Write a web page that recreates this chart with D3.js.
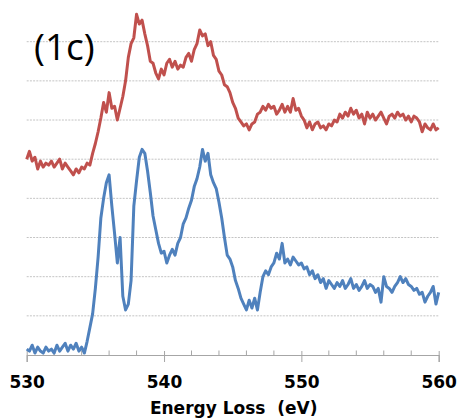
<!DOCTYPE html>
<html>
<head>
<meta charset="utf-8">
<script src="https://cdn.jsdelivr.net/npm/d3@7"></script>
<style>
  html, body { margin: 0; padding: 0; background: #fff; }
  svg { display: block; }
</style>
</head>
<body>
<svg id="chart" width="459" height="419"></svg>
<script>
// ---- data ----
const panelLabel = "(1c)";
const axisTitle = "Energy Loss  (eV)";
const xTickLabels = [530, 540, 550, 560];
const xMinorTicks = [532, 534, 536, 538, 542, 544, 546, 548, 552, 554, 556, 558];
const gridLevels = [1, 2, 3, 4, 5, 6, 7, 8];
const energyStart = 530, energyStep = 0.2;

// red spectrum (upper), sampled every 0.2 eV from 530 to 560
const redSeries = [
  5.0, 5.2, 4.95, 5.05, 4.75, 4.95, 4.8, 4.9, 4.85, 4.95,
  4.8, 4.9, 5.0, 4.75, 4.9, 4.8, 4.7, 4.6, 4.75, 4.65,
  4.8, 4.75, 4.9, 4.85, 5.15, 5.4, 5.7, 6.05, 6.45, 6.2,
  6.7, 6.3, 6.35, 6.0, 6.3, 6.6, 7.0, 7.6, 7.95, 8.1,
  8.7, 8.45, 8.55, 8.2, 7.9, 7.5, 7.45, 7.2, 7.05, 7.3,
  7.15, 7.45, 7.55, 7.35, 7.5, 7.3, 7.4, 7.35, 7.6, 7.7,
  7.5, 7.8, 7.95, 8.3, 8.15, 8.2, 7.9, 8.0, 7.65, 7.55,
  7.25, 7.15, 6.9, 6.85, 6.7, 6.45, 6.3, 6.05, 5.95, 5.85,
  5.9, 5.75, 5.9, 5.95, 6.15, 6.2, 6.35, 6.25, 6.4, 6.3,
  6.35, 6.15, 6.25, 6.4, 6.2, 6.35, 6.2, 6.55, 6.25, 6.3,
  6.1, 6.0, 5.8, 5.95, 5.75, 5.9, 5.95, 5.8, 5.85, 5.75,
  5.9, 5.85, 6.0, 5.95, 6.15, 6.05, 6.2, 6.1, 6.3, 6.15,
  6.25, 6.05, 6.15, 5.9, 6.2, 6.05, 6.15, 6.0, 6.1, 6.2,
  6.05, 5.9, 6.1, 6.15, 6.05, 6.2, 6.1, 6.15, 6.0, 6.1,
  5.95, 6.1, 6.05, 5.95, 5.7, 5.9, 5.8, 5.75, 5.9, 5.75,
  5.8
];

// blue spectrum (lower), sampled every 0.2 eV from 530 to 560
const blueSeries = [
  0.15, 0.1, 0.25, 0.05, 0.2, 0.1, 0.05, 0.2, 0.1, 0.15,
  0.05, 0.25, 0.1, 0.2, 0.3, 0.1, 0.25, 0.15, 0.3, 0.1,
  0.2, 0.05, 0.35, 0.7, 1.05, 1.7, 2.5, 3.5, 4.0, 4.4,
  4.6, 3.8, 3.1, 2.35, 3.0, 1.5, 1.15, 1.3, 1.9, 3.8,
  4.45, 5.05, 5.25, 5.15, 4.7, 4.15, 3.55, 3.2, 2.85, 2.6,
  2.65, 2.35, 2.55, 2.7, 2.55, 2.85, 3.0, 3.35, 3.5, 3.75,
  3.95, 4.3, 4.5, 4.8, 5.25, 4.95, 5.15, 4.6, 4.4, 4.25,
  3.9, 3.5, 3.0, 2.55, 2.45, 2.25, 1.9, 1.7, 1.45, 1.3,
  1.15, 1.4, 1.2, 1.45, 1.15, 1.6, 2.0, 2.15, 2.05, 2.25,
  2.35, 2.6, 2.45, 2.85, 2.35, 2.45, 2.3, 2.5, 2.4, 2.3,
  2.35, 2.2, 2.25, 2.05, 2.15, 1.95, 2.05, 1.85, 1.95, 1.7,
  1.9, 1.8, 1.7, 1.85, 1.75, 1.9, 1.7, 1.8, 1.95, 1.7,
  1.8, 1.65, 1.75, 1.9, 1.7, 1.8, 1.75, 1.6, 1.7, 1.35,
  2.0, 1.75, 1.7, 1.6, 1.75, 1.85, 2.0, 1.85, 1.95, 1.8,
  1.75, 1.65, 1.7, 1.55, 1.6, 1.35, 1.5, 1.6, 1.75, 1.3,
  1.6
];

const seriesColors = { red: "#C0504D", blue: "#4F81BD" };

// ---- layout ----
const svg = d3.select("#chart");
const x = d3.scaleLinear().domain([530, 560]).range([26.7, 438.7]);
const y = d3.scaleLinear().domain([0, 8]).range([355, 41.7]);

// gridlines
svg.append("g").selectAll("line").data(gridLevels).join("line")
  .attr("x1", x(530)).attr("x2", x(560))
  .attr("y1", d => y(d)).attr("y2", d => y(d))
  .attr("stroke", "#c4c4c4").attr("stroke-width", 1)
  .attr("stroke-dasharray", "2,1.2");

// x axis
const axisG = svg.append("g").attr("transform", `translate(0,${y(0)})`);
const axis = d3.axisBottom(x).tickValues(xTickLabels).tickSize(7).tickPadding(14)
  .tickFormat(d3.format("d"));
axisG.call(axis);
axisG.select(".domain").attr("stroke", "#a6a6a6").attr("stroke-width", 1.2);
axisG.selectAll(".tick line").attr("stroke", "#a6a6a6").attr("y1", -4).attr("y2", 7);
axisG.selectAll(".tick text")
  .attr("fill", "#000")
  .style("font-family", "'DejaVu Sans', sans-serif")
  .style("font-weight", "bold").style("font-size", "17px");
axisG.selectAll("line.minor").data(xMinorTicks).join("line").attr("class", "minor")
  .attr("x1", d => x(d)).attr("x2", d => x(d)).attr("y1", -4.5).attr("y2", 0)
  .attr("stroke", "#a6a6a6").attr("stroke-width", 1);

// spectra
const line = d3.line()
  .x((d, i) => x(energyStart + i * energyStep))
  .y(d => y(d));

svg.append("path").datum(redSeries)
  .attr("d", line).attr("fill", "none")
  .attr("stroke", seriesColors.red).attr("stroke-width", 3)
  .attr("stroke-linejoin", "round");

svg.append("path").datum(blueSeries)
  .attr("d", line).attr("fill", "none")
  .attr("stroke", seriesColors.blue).attr("stroke-width", 3)
  .attr("stroke-linejoin", "round");

// axis title
svg.append("text")
  .attr("x", (x(530) + x(560)) / 2 + 1).attr("y", 414)
  .attr("text-anchor", "middle")
  .style("font-family", "'DejaVu Sans', sans-serif")
  .style("font-weight", "bold").style("font-size", "17px")
  .style("white-space", "pre")
  .text(axisTitle);

// panel label
svg.append("text")
  .attr("x", 34).attr("y", 60)
  .style("font-family", "'Open Sans', 'Liberation Sans', sans-serif")
  .style("font-size", "37px")
  .text(panelLabel);
</script>
</body>
</html>
